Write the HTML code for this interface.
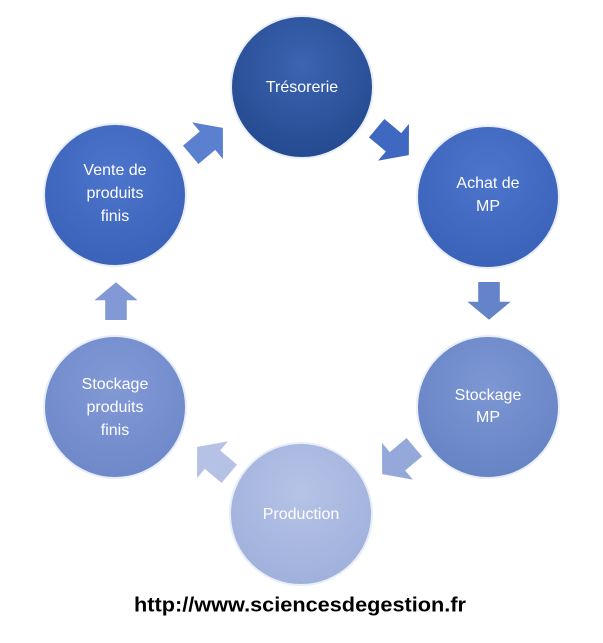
<!DOCTYPE html>
<html><head><meta charset="utf-8"><style>
html,body{margin:0;padding:0;background:#fff;}
svg{display:block}
text{font-family:"Liberation Sans",sans-serif;fill:#fff;font-size:16px;text-anchor:middle;dominant-baseline:middle}
</style></head><body>
<svg width="603" height="643" viewBox="0 0 603 643" xmlns="http://www.w3.org/2000/svg">
<defs>
<radialGradient id="g1" cx="50%" cy="35%" r="65%"><stop offset="0" stop-color="#3c64b0"/><stop offset="1" stop-color="#244a90"/></radialGradient>
<radialGradient id="g2" cx="50%" cy="35%" r="65%"><stop offset="0" stop-color="#4d75cc"/><stop offset="1" stop-color="#3a62b8"/></radialGradient>
<radialGradient id="g3" cx="50%" cy="35%" r="65%"><stop offset="0" stop-color="#7d97d4"/><stop offset="1" stop-color="#6683c4"/></radialGradient>
<radialGradient id="g4" cx="50%" cy="35%" r="65%"><stop offset="0" stop-color="#b6c3e6"/><stop offset="1" stop-color="#9fb0dc"/></radialGradient>
<radialGradient id="g5" cx="50%" cy="35%" r="65%"><stop offset="0" stop-color="#8299d6"/><stop offset="1" stop-color="#6e88c9"/></radialGradient>
<path id="ar" d="M-20,-12 L2,-12 L2,-24 L22,0 L2,24 L2,12 L-20,12 Z"/>
</defs>
<g stroke-width="2" stroke="#e8eef8">
<circle cx="302" cy="87" r="71" fill="url(#g1)"/>
<circle cx="488" cy="197" r="71" fill="url(#g2)"/>
<circle cx="488" cy="407" r="71" fill="url(#g3)"/>
<circle cx="301" cy="514" r="71" fill="url(#g4)"/>
<circle cx="115" cy="407" r="71" fill="url(#g5)"/>
<circle cx="115" cy="195" r="71" fill="url(#g2)"/>
</g>
<use href="#ar" fill="#5b80cf" transform="translate(206,142) rotate(-40)"/>
<use href="#ar" fill="#3f68c0" transform="translate(392,141) rotate(40)"/>
<use href="#ar" fill="#6583c8" transform="translate(489,300) rotate(90) scale(0.9)"/>
<use href="#ar" fill="#94a8da" transform="translate(399,460) rotate(140)"/>
<use href="#ar" fill="#b5c2e6" transform="translate(214,461) rotate(-140)"/>
<use href="#ar" fill="#8299d6" transform="translate(116,302) rotate(-90) scale(0.9)"/>
<text x="302" y="88">Trésorerie</text>
<text x="488" y="184">Achat de</text><text x="488" y="207">MP</text>
<text x="488" y="396">Stockage</text><text x="488" y="418">MP</text>
<text x="301" y="515">Production</text>
<text x="115" y="385">Stockage</text><text x="115" y="408">produits</text><text x="115" y="431">finis</text>
<text x="115" y="171">Vente de</text><text x="115" y="194">produits</text><text x="115" y="217">finis</text>
<text x="300" y="606" style="fill:#000;font-weight:bold;font-size:20px" textLength="332" lengthAdjust="spacingAndGlyphs">http://www.sciencesdegestion.fr</text>
</svg>
</body></html>
